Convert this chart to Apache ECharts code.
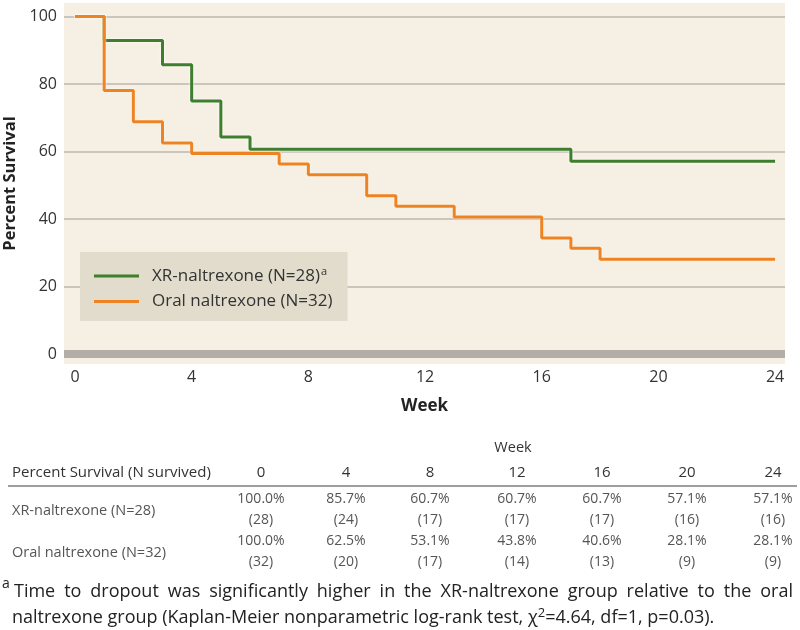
<!DOCTYPE html>
<html>
<head>
<meta charset="utf-8">
<script src="https://cdn.jsdelivr.net/npm/echarts@6/dist/echarts.min.js"></script>
<style>html,body{margin:0;padding:0;background:#fff}#c{width:800px;height:630px}</style>
</head>
<body>
<div id="c"></div>
<script>
// ---- data ----
const xTickValues = [0, 4, 8, 12, 16, 20, 24];
const yTickValues = [0, 20, 40, 60, 80, 100];
const xrWeeks = [0, 1, 3, 4, 5, 6, 17, 24];
const xrSurvival = [100, 92.9, 85.7, 75.0, 64.3, 60.7, 57.1, 57.1];
const oralWeeks = [0, 1, 2, 3, 4, 7, 8, 10, 11, 13, 16, 17, 18, 24];
const oralSurvival = [100, 78.1, 68.8, 62.5, 59.4, 56.3, 53.1, 46.9, 43.8, 40.6, 34.4, 31.3, 28.1, 28.1];
const seriesNames = ['XR-naltrexone (N=28)', 'Oral naltrexone (N=32)'];
const tableWeeks = ['0', '4', '8', '12', '16', '20', '24'];
const tableRowLabels = ['XR-naltrexone (N=28)', 'Oral naltrexone (N=32)'];
const xrPct = ['100.0%', '85.7%', '60.7%', '60.7%', '60.7%', '57.1%', '57.1%'];
const xrN = ['(28)', '(24)', '(17)', '(17)', '(17)', '(16)', '(16)'];
const oralPct = ['100.0%', '62.5%', '53.1%', '43.8%', '40.6%', '28.1%', '28.1%'];
const oralN = ['(32)', '(20)', '(17)', '(14)', '(13)', '(9)', '(9)'];
const footLine1 = 'Time to dropout was significantly higher in the XR-naltrexone group relative to the oral';

const FONT = '"Open Sans", sans-serif';
const chart = echarts.init(document.getElementById('c'), null, {renderer: 'canvas'});

const colX = [261, 346, 430, 517, 602, 687, 773];
const graphics = [];
const tTxt = (x, y, text, opt) => graphics.push(Object.assign({
  type: 'text', x: x, y: y,
  style: Object.assign({text: text, font: '14px ' + FONT, fill: '#555', align: 'center', verticalAlign: 'middle'}, opt || {})
}));
tTxt(513, 448, 'Week', {fill: '#333', font: '14.5px ' + FONT});
tTxt(12, 473, 'Percent Survival (N survived)', {fill: '#333', align: 'left', font: '15px ' + FONT});
tableWeeks.forEach((w, i) => tTxt(colX[i], 473, w, {fill: '#333', font: '15px ' + FONT}));
graphics.push({type: 'line', shape: {x1: 8, y1: 486, x2: 797, y2: 486}, style: {stroke: '#9e9e9e', lineWidth: 2}});
tTxt(12, 511, tableRowLabels[0], {align: 'left', font: '14.5px ' + FONT});
tTxt(12, 553, tableRowLabels[1], {align: 'left', font: '14.5px ' + FONT});
xrPct.forEach((v, i) => tTxt(colX[i], 499, v));
xrN.forEach((v, i) => tTxt(colX[i], 520, v));
oralPct.forEach((v, i) => tTxt(colX[i], 541, v));
oralN.forEach((v, i) => tTxt(colX[i], 562, v));

// footnote (line 1 justified between x=14 and x=793)
const FOOT_FONT = '18px ' + FONT;
tTxt(2, 584, 'a', {fill: '#222', align: 'left', font: '14px ' + FONT});
(function () {
  const ctx = document.createElement('canvas').getContext('2d');
  ctx.font = FOOT_FONT;
  const words = footLine1.split(' ');
  const widths = words.map(w => ctx.measureText(w).width);
  const sum = widths.reduce((a, b) => a + b, 0);
  const gap = (793 - 14 - sum) / (words.length - 1);
  let x = 14;
  words.forEach((w, i) => {
    tTxt(x, 592, w, {fill: '#222', align: 'left', font: FOOT_FONT});
    x += widths[i] + gap;
  });
})();
graphics.push({
  type: 'text', x: 12, y: 618,
  style: {
    text: '{t|naltrexone group (Kaplan-Meier nonparametric log-rank test, χ}{s|2}{t|=4.64, df=1, p=0.03).}',
    verticalAlign: 'middle', align: 'left',
    rich: {
      t: {font: FOOT_FONT, fill: '#222'},
      s: {font: '13px ' + FONT, fill: '#222', verticalAlign: 'top', padding: [0, 0, 9, 0]}
    }
  }
});

const option = {
  animation: false,
  backgroundColor: '#ffffff',
  grid: {left: 64, right: 15, top: 3, bottom: 266, show: true, backgroundColor: '#f6f0e4', borderWidth: 0, outerBoundsMode: 'none', containLabel: false},
  xAxis: {
    type: 'value', min: -0.377, max: 24.34,
    name: 'Week', nameLocation: 'middle', nameGap: 34,
    nameTextStyle: {fontFamily: FONT, fontWeight: 'bold', fontSize: 17, color: '#222'},
    axisLine: {show: true, onZero: true, lineStyle: {color: '#b3ada7', width: 8, cap: 'butt'}},
    axisTick: {show: false, customValues: xTickValues},
    axisLabel: {customValues: xTickValues, fontFamily: FONT, fontSize: 16, color: '#333', margin: 5},
    splitLine: {show: false}
  },
  yAxis: {
    type: 'value', min: -2.96, max: 104,
    name: 'Percent Survival', nameLocation: 'middle', nameGap: 39,
    nameTextStyle: {fontFamily: FONT, fontWeight: 'bold', fontSize: 16.5, color: '#222'},
    axisLine: {show: false},
    axisTick: {show: false, customValues: yTickValues},
    axisLabel: {customValues: yTickValues, fontFamily: FONT, fontSize: 16, color: '#333', margin: 7},
    splitLine: {show: true, lineStyle: {color: '#bdb8b1', width: 1.5}}
  },
  legend: {
    data: seriesNames,
    orient: 'vertical', left: 80, top: 252,
    backgroundColor: '#e1dccb',
    padding: [14, 15, 11, 14],
    itemGap: 8, itemWidth: 45, itemHeight: 3, icon: 'rect',
    formatter: n => n === seriesNames[0] ? '{t|' + n + '}{s|a}' : '{t|' + n + '}',
    textStyle: {
      padding: [0, 0, 0, 8],
      rich: {
        t: {fontFamily: FONT, fontSize: 17, color: '#333', lineHeight: 20},
        s: {fontFamily: FONT, fontSize: 11, color: '#333', verticalAlign: 'top', lineHeight: 20, padding: [0, 0, 8, 1]}
      }
    }
  },
  graphic: graphics,
  series: [
    {
      name: seriesNames[0], type: 'line', step: 'end', symbol: 'none', z: 3,
      data: xrWeeks.map((w, i) => [w, xrSurvival[i]]),
      color: '#3e7e2c',
      lineStyle: {width: 3, color: '#3e7e2c', shadowColor: 'rgba(255,255,255,0.95)', shadowBlur: 3}
    },
    {
      name: seriesNames[1], type: 'line', step: 'end', symbol: 'none', z: 4,
      data: oralWeeks.map((w, i) => [w, oralSurvival[i]]),
      color: '#ef8322',
      lineStyle: {width: 3, color: '#ef8322', shadowColor: 'rgba(255,255,255,0.8)', shadowBlur: 2}
    }
  ]
};
chart.setOption(option);
</script>
</body>
</html>
